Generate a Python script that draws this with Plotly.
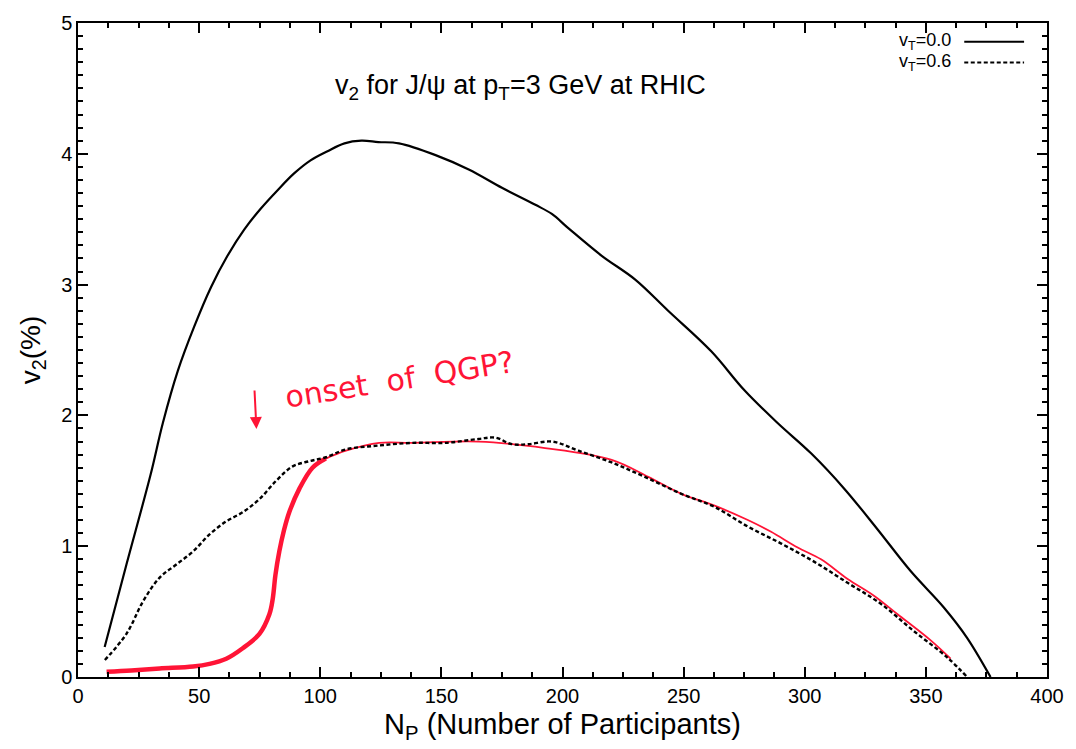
import plotly.graph_objects as go

# ---- data ----
np_vt00 = [11, 20, 30, 35, 41.2, 48, 54.9, 61.7, 68.6, 75.4, 82.3, 89.2, 96, 103, 110, 117, 124,
           132.5, 147.6, 161.3, 175, 188.8, 195.6, 202.5, 216.2, 229.9, 243.6, 261.4, 275.2,
           288.9, 302.6, 316.3, 330, 343.7, 357.5, 367, 376.7]
v2_vt00 = [0.23, 0.86, 1.55, 1.94, 2.34, 2.68, 2.98, 3.22, 3.42, 3.58, 3.72, 3.85, 3.95, 4.02, 4.08,
           4.10, 4.09, 4.08, 3.99, 3.88, 3.74, 3.61, 3.54, 3.43, 3.22, 3.04, 2.80, 2.49, 2.19,
           1.94, 1.71, 1.44, 1.13, 0.81, 0.53, 0.30, 0.0]

np_vt06 = [11.1, 20, 26.9, 33.7, 40.6, 47.5, 54.3, 61.2, 68, 74.9, 81.8, 88.6, 95.5, 102.3, 110.6,
           124.3, 138, 151.7, 165.4, 172.3, 179.1, 186, 195.6, 206.6, 220.3, 234, 249.1, 262.8,
           276.5, 290.3, 304, 317.7, 331.4, 345.1, 358.8, 367]
v2_vt06 = [0.13, 0.33, 0.58, 0.76, 0.86, 0.96, 1.09, 1.19, 1.26, 1.36, 1.50, 1.61, 1.65, 1.68, 1.74,
           1.77, 1.79, 1.79, 1.82, 1.83, 1.78, 1.78, 1.80, 1.73, 1.64, 1.53, 1.40, 1.30,
           1.15, 1.02, 0.88, 0.72, 0.56, 0.35, 0.15, 0.0]

# hand-drawn red curve (thick part, then thin part)
np_red_thick = [11.8, 22, 33.7, 47.5, 54.3, 61.2, 68, 74.9, 79, 80.4, 81.5, 83.1, 85, 87.2, 91.4, 96.8, 102.3]
v2_red_thick = [0.04, 0.05, 0.065, 0.08, 0.10, 0.14, 0.22, 0.33, 0.48, 0.60, 0.78, 0.96, 1.12, 1.26, 1.44, 1.60, 1.67]
np_red_thin = [102.3, 110.6, 124.3, 138, 165.4, 192.8, 220.3, 235.4, 249.1, 262.8, 276.5, 286.1, 297.1,
               306.7, 317.7, 328.7, 338.3, 352, 360.2]
v2_red_thin = [1.67, 1.73, 1.79, 1.79, 1.80, 1.75, 1.66, 1.53, 1.40, 1.31, 1.20, 1.11, 0.99,
               0.90, 0.75, 0.62, 0.48, 0.28, 0.14]

legend_labels = ["v<sub>T</sub>=0.0", "v<sub>T</sub>=0.6"]
title_text = "v<sub>2</sub> for J/ψ at p<sub>T</sub>=3 GeV at RHIC"
note_text = "onset  of  QGP?"

RED = "#ff1436"
FONT = "Liberation Sans, Arial, sans-serif"

fig = go.Figure()
fig.add_trace(go.Scatter(x=np_red_thick, y=v2_red_thick, mode="lines",
                         line=dict(color=RED, width=4.5, shape="spline"), showlegend=False))
fig.add_trace(go.Scatter(x=np_red_thin, y=v2_red_thin, mode="lines",
                         line=dict(color=RED, width=1.8, shape="spline"), showlegend=False))
fig.add_trace(go.Scatter(x=np_vt00, y=v2_vt00, mode="lines",
                         line=dict(color="black", width=2.2, shape="spline"), showlegend=False))
fig.add_trace(go.Scatter(x=np_vt06, y=v2_vt06, mode="lines",
                         line=dict(color="black", width=2.4, dash="4px,2.5px", shape="spline"),
                         showlegend=False))

def px2paper_x(px):
    return (px - 78) / 972.0

def px2paper_y(py):
    return (677 - py) / 662.0

# manual legend (text left, line sample right, as in the reference)
for i, (lab, dash) in enumerate(zip(legend_labels, ["solid", "4px,2.5px"])):
    yy = px2paper_y(34 + 21 * i)
    fig.add_annotation(x=px2paper_x(956), y=yy, xref="paper", yref="paper", text=lab,
                       showarrow=False, xanchor="right", yanchor="middle",
                       font=dict(family=FONT, size=18, color="black"))
    fig.add_shape(type="line", xref="paper", yref="paper",
                  x0=px2paper_x(967), x1=px2paper_x(1027), y0=yy, y1=yy,
                  line=dict(color="black", width=2.2, dash=dash))

fig.add_annotation(x=px2paper_x(522), y=px2paper_y(80), xref="paper", yref="paper",
                   text=title_text, showarrow=False, xanchor="center", yanchor="middle",
                   font=dict(family=FONT, size=27, color="black"))

# handwritten note
fig.add_annotation(x=px2paper_x(400), y=px2paper_y(376), xref="paper", yref="paper",
                   text=note_text, showarrow=False, textangle=-9,
                   xanchor="center", yanchor="middle",
                   font=dict(family="DejaVu Sans, sans-serif", size=30, color=RED))
fig.add_annotation(x=px2paper_x(257), y=px2paper_y(426), xref="paper", yref="paper",
                   axref="pixel", ayref="pixel", ax=-2, ay=-40,
                   text="", showarrow=True, arrowhead=2, arrowsize=1.2, arrowwidth=2,
                   arrowcolor=RED)

axis_common = dict(showline=True, linecolor="black", linewidth=1.5, mirror="allticks",
                   ticks="inside", ticklen=10, tickwidth=1.5, tickcolor="black",
                   showgrid=False, zeroline=False,
                   tickfont=dict(family=FONT, size=20, color="black"))

fig.update_xaxes(range=[0, 400], dtick=50, tick0=0,
                 minor=dict(dtick=12.5, ticks="inside", ticklen=5, tickcolor="black", showgrid=False),
                 title=dict(text="N<sub>P</sub> (Number of Participants)",
                            font=dict(family=FONT, size=29, color="black"), standoff=8),
                 **axis_common)
fig.update_yaxes(range=[0, 5], dtick=1, tick0=0,
                 minor=dict(dtick=0.1, ticks="inside", ticklen=5, tickcolor="black", showgrid=False),
                 title=dict(text="v<sub>2</sub>(%)",
                            font=dict(family=FONT, size=28, color="black"), standoff=12),
                 **axis_common)

fig.update_layout(width=1076, height=749, margin=dict(l=78, r=26, t=15, b=72),
                  plot_bgcolor="white", paper_bgcolor="white", showlegend=False)

fig.write_html("out.html")
